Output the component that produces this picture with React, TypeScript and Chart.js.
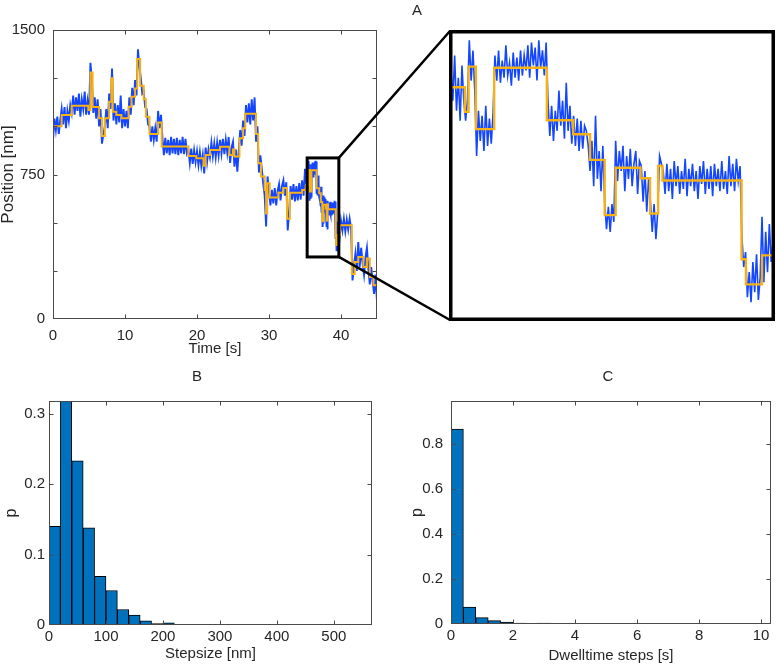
import React, { useEffect, useRef } from 'react';
import { Chart, registerables } from 'chart.js';
Chart.register(...registerables);

const FONT = '"Liberation Sans", Arial, Helvetica, sans-serif';
const TXT = '#262626';
const FRAME = '#4a4a4a';
const BLUE = '#1446ff';
const ORANGE = '#f6b116';
const BAR = '#0072BD';

// ---------- Panel A: position trace ----------
// part 1: sampled every 0.2 s from 0 s
const traceAStart = 0;
const traceADt = 0.2;
const traceA = [
  930, 1040, 980, 1050, 960, 1030,
  1090, 1010, 1100, 990, 1080, 1030, 1110,
  1070, 1160, 1060, 1150, 1080, 1170, 1050, 1140, 1090, 1180, 1060, 1130,
  1060,
  1330, 1240,
  1070, 1150, 1040, 1140,
  1000, 1090,
  910, 960,
  1000, 1090, 990,
  1170, 1090,
  1300,
  1030, 1120,
  1010, 1110, 1020, 1160,
  990, 1090, 1000, 1080, 990,
  1150, 1060,
  1200, 1110,
  1240, 1160,
  1400, 1310,
  1250, 1170,
  1180, 1100,
  1090, 1010,
  1000, 920, 1000, 930, 990, 920,
  1080, 990, 1060,
  940, 850, 940, 860, 930, 850, 945, 860, 935, 855, 940, 850, 930, 860, 945, 855, 935, 860,
  880, 810, 885, 805, 875, 815,
  870, 800, 865, 795, 850,
  755,
  890, 815, 880,
  840, 915, 845, 910, 840, 915, 850,
  930, 860, 935, 855, 930, 865, 945,
  810, 890,
  920,
  790, 880, 765, 870,
  980, 900,
  1030, 950,
  1110, 1020, 1120, 1010, 1140, 1030, 1150,
  920, 1000,
  760, 850,
  780, 700,
  640,
  480,
  740, 660,
  590, 670, 600, 680, 590, 665,
  700, 615, 690,
  720, 640, 710,
  460, 560,
  690, 620, 700, 610, 690, 615, 705, 620,
  720, 640,
  780, 700,
];
// part 2: the zoomed window, sampled every 0.025 s
const traceZStart = 35.3;
const traceZDt = 0.025;
const traceZ = [
  767, 713, 794, 695, 754, 677, 776, 713,
  677, 713,
  821, 749, 803, 731,
  614, 695, 641, 686, 623, 704, 632, 681, 636, 691,
  794, 749, 803, 745, 785, 754, 812, 758, 781, 740, 799, 754, 790, 749, 803, 758, 794, 767, 812, 754, 817, 776, 808, 749, 821, 772, 803, 758, 817,
  713, 650, 704, 641, 695, 659, 731, 668, 713, 645, 745, 659, 704, 636, 686,
  632, 681, 623, 677, 627, 668, 659, 632,
  587, 641, 560, 686, 573, 623, 551, 632,
  532, 483, 523, 478, 528, 496,
  641, 569, 623, 587, 632, 551, 614, 573, 627, 560, 600, 623, 546, 605,
  596, 532, 587, 514, 573,
  532, 478, 528, 465, 514,
  614, 600,
  587, 546, 600, 551, 591, 537, 605, 560, 596, 546, 587, 555, 609, 542, 591, 560, 600, 551, 587, 537, 596, 564, 605, 546, 591, 555, 596, 542, 600, 560, 591, 551, 605, 555, 587, 546, 614, 560, 600, 551, 609, 569, 596,
  469, 415, 442,
  361, 406, 352, 424, 370, 438, 356, 397,
  505, 388, 478, 406, 492, 424, 460,
];
// part 3: tail, sampled every 0.2 s
const traceTStart = 39.8;
const traceTDt = 0.2;
const traceT = [420, 510, 460, 520, 455, 515, 465, 520, 470, 200, 280, 340, 250, 400, 270, 370, 290, 230, 320, 370, 260, 180, 270, 190, 130, 230, 90];

// step fit (start time of each plateau, level)
const fitTimes = [0, 1.2, 2.6, 4.9, 5.2, 5.5, 6.4, 6.8, 7.2, 7.8, 8.1, 8.3, 8.8, 9.5, 10.5, 10.9, 11.4, 11.7, 12.1, 12.6, 12.9, 13.4, 14.6, 15.1, 18.8, 19.9, 20.9, 21.2, 21.8, 23.2, 24.5, 25.0, 25.2, 25.9, 26.4, 26.7, 28.2, 28.5, 28.9, 29.4, 29.6, 29.75, 30.1, 31.3, 32.0, 32.5, 32.9, 34.6, 35.1, 35.3, 35.49, 35.54, 35.64, 35.89, 36.61, 36.97, 37.2, 37.4, 37.55, 37.89, 38.02, 38.13, 38.19, 39.27, 39.33, 39.55, 39.85, 41.5, 41.9, 42.4, 43.1, 43.6, 44.0, 44.5, 45.0];
const fitLevels = [1000, 1059, 1107, 1085, 1280, 1100, 1042, 950, 1042, 1128, 1250, 1076, 1059, 1042, 1102, 1154, 1197, 1350, 1210, 1140, 1050, 960, 1020, 895, 846, 834, 795, 851, 877, 894, 851, 880, 843, 938, 990, 1065, 960, 808, 739, 669, 548, 704, 630, 655, 680, 520, 655, 670, 690, 737, 693, 774, 662, 772, 678, 653, 607, 508, 593, 574, 511, 596, 570, 429, 384, 436, 486, 234, 296, 322, 270, 314, 218, 175, 175];

const timeRange = [0, 45];
const posRange = [0, 1500];
const posTicksLabelled = [0, 750, 1500];
const zoomTime = [35.3, 39.7];
const zoomPos = [322, 836];

// ---------- Panel B: step size histogram ----------
const stepEdges = [0, 20, 40, 60, 80, 100, 120, 140, 160, 180, 200, 220, 240];
const stepP = [0.14, 0.33, 0.233, 0.138, 0.069, 0.049, 0.022, 0.014, 0.006, 0.002, 0.003, 0.001, 0.001];
const stepBinWidth = 20;

// ---------- Panel C: dwell time histogram ----------
const dwellEdges = [0, 0.4, 0.8, 1.2, 1.6, 2.0, 2.4, 2.8, 3.2, 3.6, 4.0, 4.4, 4.8, 5.2, 5.6, 6.0, 6.4, 6.8, 7.2, 7.6, 8.0, 8.4, 8.8, 9.2, 9.6];
const dwellP = [0.865, 0.075, 0.028, 0.015, 0.008, 0.004, 0.001, 0.004, 0.001, 0.001, 0.0006, 0.0006, 0.0006, 0.0006, 0.0006, 0.0006, 0.0006, 0.002, 0.0006, 0.0006, 0.0006, 0.0006, 0.0006, 0.0006, 0.002];
const dwellBinWidth = 0.4;

// ---------- layout ----------
const ZP = { left: 449, top: 30, width: 326, height: 291 };

const toPts = (start: number, dt: number, vals: number[]) =>
  vals.map((v, i) => ({ x: Math.round((start + i * dt) * 1000) / 1000, y: v }));
const tracePts = [
  ...toPts(traceAStart, traceADt, traceA),
  ...toPts(traceZStart, traceZDt, traceZ),
  ...toPts(traceTStart, traceTDt, traceT),
];
const fitPts = fitTimes.map((t, i) => ({ x: t, y: fitLevels[i] }));

const framePlugin = {
  id: 'frame',
  afterDraw(chart: any, _args: any, o: any) {
    if (!o || !o.on) return;
    const { ctx, chartArea: a } = chart;
    const xs = chart.scales.x;
    const ys = chart.scales.y;
    ctx.save();
    ctx.strokeStyle = FRAME;
    ctx.lineWidth = 1;
    const L = Math.round(a.left) + 0.5;
    const R = Math.round(a.right) - 0.5;
    const T = Math.round(a.top) + 0.5;
    const B = Math.round(a.bottom) - 0.5;
    ctx.strokeRect(L, T, R - L, B - T);
    const len = o.tick || 4;
    ctx.beginPath();
    xs.ticks.forEach((t: any) => {
      const px = Math.round(xs.getPixelForValue(t.value)) + 0.5;
      if (px <= L + 1 || px >= R - 1) return;
      ctx.moveTo(px, B); ctx.lineTo(px, B - len);
      ctx.moveTo(px, T); ctx.lineTo(px, T + len);
    });
    ys.ticks.forEach((t: any) => {
      const py = Math.round(ys.getPixelForValue(t.value)) + 0.5;
      if (py <= T + 1 || py >= B - 1) return;
      ctx.moveTo(L, py); ctx.lineTo(L + len, py);
      ctx.moveTo(R, py); ctx.lineTo(R - len, py);
    });
    ctx.stroke();
    if (o.title) {
      ctx.fillStyle = TXT;
      ctx.font = `${o.titleSize || 15}px ${FONT}`;
      ctx.textAlign = 'center';
      ctx.textBaseline = 'middle';
      ctx.fillText(o.title, o.titleX, o.titleY);
    }
    ctx.restore();
  },
};

const zoomLinkPlugin = {
  id: 'zoomLink',
  afterDraw(chart: any, _args: any, o: any) {
    if (!o || !o.on) return;
    const { ctx } = chart;
    const xs = chart.scales.x;
    const ys = chart.scales.y;
    const x0 = xs.getPixelForValue(zoomTime[0]);
    const x1 = xs.getPixelForValue(zoomTime[1]);
    const y0 = ys.getPixelForValue(zoomPos[1]);
    const y1 = ys.getPixelForValue(zoomPos[0]);
    ctx.save();
    ctx.strokeStyle = '#000';
    ctx.lineWidth = 3;
    ctx.strokeRect(x0, y0, x1 - x0, y1 - y0);
    ctx.lineWidth = 2.5;
    ctx.beginPath();
    ctx.moveTo(x1, y0); ctx.lineTo(ZP.left + 1, ZP.top + 1);
    ctx.moveTo(x1, y1); ctx.lineTo(ZP.left + 1, ZP.top + ZP.height - 1);
    ctx.stroke();
    ctx.restore();
  },
};

const borderPlugin = {
  id: 'thickBorder',
  afterDraw(chart: any, _args: any, o: any) {
    if (!o || !o.on) return;
    const { ctx, width, height } = chart;
    ctx.save();
    ctx.strokeStyle = '#000';
    ctx.lineWidth = 3.5;
    ctx.strokeRect(1.75, 1.75, width - 3.5, height - 3.5);
    ctx.restore();
  },
};

const tickFont = { family: FONT, size: 15 };

function mainConfig(): any {
  return {
    type: 'line',
    data: {
      datasets: [
        { data: fitPts, borderColor: ORANGE, borderWidth: 2, pointRadius: 0, stepped: 'before', order: 0 },
        { data: tracePts, borderColor: BLUE, borderWidth: 1.9, pointRadius: 0, order: 1 },
      ],
    },
    options: {
      animation: false,
      responsive: false,
      events: [],
      layout: { padding: { left: 0, top: 30, right: 399, bottom: 0 } },
      elements: { line: { tension: 0 } },
      plugins: {
        legend: { display: false },
        tooltip: { enabled: false },
        frame: { on: true, tick: 4, title: 'A', titleX: 417, titleY: 11, titleSize: 15 },
        zoomLink: { on: true },
      },
      scales: {
        x: {
          type: 'linear', min: timeRange[0], max: timeRange[1],
          grid: { display: false, drawTicks: false }, border: { display: false },
          ticks: { stepSize: 10, includeBounds: false, padding: 8, font: tickFont, color: TXT, maxRotation: 0 },
          title: { display: true, text: 'Time [s]', color: TXT, font: { family: FONT, size: 15, lineHeight: 1 }, padding: { top: 0, bottom: 3.5 } },
          afterFit: (s: any) => { s.height = 41; },
        },
        y: {
          type: 'linear', min: posRange[0], max: posRange[1],
          grid: { display: false, drawTicks: false }, border: { display: false },
          ticks: {
            stepSize: 250, includeBounds: false, padding: 8, font: tickFont, color: TXT,
            callback: (v: number) => (posTicksLabelled.includes(v) ? String(v) : ''),
          },
          title: { display: true, text: 'Position [nm]', color: TXT, font: { family: FONT, size: 17, lineHeight: 1 }, padding: { top: 0, bottom: 0 } },
          afterFit: (s: any) => { s.width = 53; },
        },
      },
    },
    plugins: [framePlugin, zoomLinkPlugin],
  };
}

function zoomConfig(): any {
  return {
    type: 'line',
    data: {
      datasets: [
        { data: fitPts, borderColor: ORANGE, borderWidth: 2.4, pointRadius: 0, stepped: 'before', order: 0 },
        { data: tracePts, borderColor: BLUE, borderWidth: 1.6, pointRadius: 0, order: 1 },
      ],
    },
    options: {
      animation: false,
      responsive: false,
      events: [],
      layout: { padding: 2 },
      elements: { line: { tension: 0 } },
      plugins: { legend: { display: false }, tooltip: { enabled: false }, thickBorder: { on: true } },
      scales: {
        x: { type: 'linear', display: false, min: zoomTime[0], max: zoomTime[1] },
        y: { type: 'linear', display: false, min: zoomPos[0], max: zoomPos[1] },
      },
    },
    plugins: [borderPlugin],
  };
}

function histConfig(p: {
  edges: number[]; values: number[]; bw: number; xMax: number; yMax: number; xStep: number; yStep: number;
  xTitle: string; padLeft: number; padRight: number; yWidth: number; xHeight: number;
  yTickPad: number; xTickPad: number; xTitleBottom: number; yTitleTop: number; title: string; titleX: number;
}): any {
  return {
    type: 'bar',
    data: {
      datasets: [{
        data: p.edges.map((e, i) => ({ x: e + p.bw / 2, y: p.values[i] })),
        backgroundColor: BAR, borderColor: '#000', borderWidth: 1,
        barPercentage: 1, categoryPercentage: 1, borderSkipped: 'start',
      }],
    },
    options: {
      animation: false,
      responsive: false,
      events: [],
      layout: { padding: { left: p.padLeft, top: 41, right: p.padRight, bottom: 0 } },
      plugins: {
        legend: { display: false }, tooltip: { enabled: false },
        frame: { on: true, tick: 4, title: p.title, titleX: p.titleX, titleY: 17, titleSize: 15 },
      },
      scales: {
        x: {
          type: 'linear', offset: false, min: 0, max: p.xMax,
          grid: { display: false, drawTicks: false }, border: { display: false },
          ticks: { stepSize: p.xStep, includeBounds: false, padding: p.xTickPad, font: tickFont, color: TXT, maxRotation: 0 },
          title: { display: true, text: p.xTitle, color: TXT, font: { family: FONT, size: 15, lineHeight: 1 }, padding: { top: 0, bottom: p.xTitleBottom } },
          afterFit: (s: any) => { s.height = p.xHeight; },
        },
        y: {
          type: 'linear', min: 0, max: p.yMax,
          grid: { display: false, drawTicks: false }, border: { display: false },
          ticks: { stepSize: p.yStep, includeBounds: false, padding: p.yTickPad, font: tickFont, color: TXT },
          title: { display: true, text: 'p', color: TXT, font: { family: FONT, size: 16, lineHeight: 1 }, padding: { top: p.yTitleTop, bottom: 0 } },
          afterFit: (s: any) => { s.width = p.yWidth; },
        },
      },
    },
    plugins: [framePlugin],
  };
}

function ChartBox(props: { left: number; top: number; width: number; height: number; make: () => any }) {
  const ref = useRef<HTMLCanvasElement>(null);
  useEffect(() => {
    const chart = new Chart(ref.current as HTMLCanvasElement, props.make());
    return () => chart.destroy();
  }, []);
  return (
    <canvas
      ref={ref}
      width={props.width}
      height={props.height}
      style={{ position: 'absolute', left: props.left, top: props.top, width: props.width, height: props.height }}
    />
  );
}

export default function App() {
  return (
    <div style={{ position: 'absolute', left: 0, top: 0, width: 776, height: 665, background: '#fff', overflow: 'hidden' }}>
      <ChartBox left={0} top={0} width={776} height={360} make={mainConfig} />
      <ChartBox left={ZP.left} top={ZP.top} width={ZP.width} height={ZP.height} make={zoomConfig} />
      <ChartBox
        left={0} top={360} width={390} height={305}
        make={() => histConfig({
          edges: stepEdges, values: stepP, bw: stepBinWidth, xMax: 567, yMax: 0.318, xStep: 100, yStep: 0.1,
          xTitle: 'Stepsize [nm]', padLeft: 0, padRight: 18, yWidth: 49, xHeight: 40,
          yTickPad: 4, xTickPad: 3, xTitleBottom: 4, yTitleTop: 4, title: 'B', titleX: 197,
        })}
      />
      <ChartBox
        left={390} top={360} width={386} height={305}
        make={() => histConfig({
          edges: dwellEdges, values: dwellP, bw: dwellBinWidth, xMax: 10.32, yMax: 0.99, xStep: 2, yStep: 0.2,
          xTitle: 'Dwelltime steps [s]', padLeft: 0, padRight: 5, yWidth: 61, xHeight: 41,
          yTickPad: 8, xTickPad: 2.5, xTitleBottom: 2, yTitleTop: 20, title: 'C', titleX: 218,
        })}
      />
    </div>
  );
}
